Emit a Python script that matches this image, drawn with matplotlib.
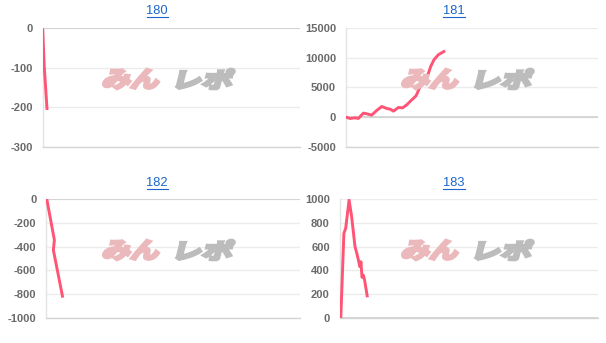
import math
import matplotlib
matplotlib.use("Agg")
import matplotlib.pyplot as plt
from matplotlib.textpath import TextPath
from matplotlib.patches import PathPatch
from matplotlib.font_manager import FontProperties
from matplotlib.transforms import Affine2D
from matplotlib.lines import Line2D

W, H = 606, 343

titles = ["180", "181", "182", "183"]

x180 = [0.0, 0.6, 1.7]
y180 = [0, -97, -207]

x181 = [0.0, 1.7, 3.7, 5.0, 7.0, 8.3, 10.3, 12.3, 14.3, 16.3, 17.6, 18.9, 20.9,
        22.6, 24.2, 26.2, 27.9, 29.5, 30.6, 31.9, 32.8, 33.7, 35.0, 36.7, 39.4]
y181 = [0, -230, -120, -230, 670, 560, 340, 1120, 1790, 1450, 1350, 1010, 1620,
        1570, 2080, 2920, 3600, 5170, 6010, 6420, 7430, 8560, 9690, 10530, 11200]

x182 = [0.3, 3.3, 2.9, 6.6]
y182 = [0, -345, -429, -829]

x183 = [0.5, 1.7, 2.4, 3.7, 4.7, 6.0, 6.7, 7.9, 8.3, 8.7, 9.2, 9.7, 10.8]
y183 = [0, 712, 754, 992, 851, 599, 544, 431, 473, 342, 361, 319, 174]

yticks = [[0, -100, -200, -300],
          [15000, 10000, 5000, 0, -5000],
          [0, -200, -400, -600, -800, -1000],
          [1000, 800, 600, 400, 200, 0]]
ylims = [(-300, 0), (-5000, 15000), (-1000, 0), (0, 1000)]

xs = [x180, x181, x182, x183]
ys = [y180, y181, y182, y183]

# axes boxes in pixels: left, right, top, bottom
boxes = [(42.7, 300, 28.3, 146.7),
         (345.7, 598, 28.3, 146.7),
         (46.0, 300, 199.0, 318.0),
         (339.5, 598, 199.0, 318.0)]
title_pos = [(157, 11.5), (454, 11.5), (157, 183.5), (454, 183.5)]
logo_pos = [(170, 79), (469, 79), (170, 250), (469, 250)]

LINE = "#ff5475"
fig = plt.figure(figsize=(W / 100, H / 100), dpi=100)
fig.patch.set_facecolor("white")

px_tr = Affine2D().scale(1 / W, 1 / H) + fig.transFigure

fp_logo = FontProperties(family="Noto Sans CJK JP", weight="bold")


def logo_part(text, x0, x1, ytop, ybot, color):
    tp = TextPath((0, 0), text, size=30, prop=fp_logo)
    bb = tp.get_extents()
    skew = 14
    t = math.tan(math.radians(skew))
    pad = 1.2
    h = (ybot - ytop) - 2 * pad
    w = (x1 - x0) - 2 * pad - h * t
    tr = (Affine2D().translate(-bb.x0, -bb.y0)
          .scale(w / bb.width, h / bb.height)
          .skew_deg(skew, 0)
          .translate(x0 + pad, H - ybot + pad))
    path = tr.transform_path(tp)
    p = PathPatch(path, facecolor=color, edgecolor=color, linewidth=2.2,
                  joinstyle="miter", transform=px_tr, zorder=0.5)
    fig.add_artist(p)


for i in range(4):
    l, r, t, b = boxes[i]
    ax = fig.add_axes([l / W, 1 - b / H, (r - l) / W, (b - t) / H])
    ax.set_facecolor("none")
    ax.set_xlim(0, 100)
    ax.set_ylim(*ylims[i])
    ax.set_yticks(yticks[i])
    ax.set_yticklabels([str(v) for v in yticks[i]], family="Liberation Sans",
                       fontsize=8.0, color="#6a6a6a", fontweight="bold")
    ax.set_xticks([])
    ax.tick_params(axis="y", length=0, pad=7)
    for s in ["top", "right"]:
        ax.spines[s].set_visible(False)
    ax.spines["left"].set_color("#e4e4e4")
    ax.spines["left"].set_linewidth(1)
    ax.spines["bottom"].set_color("#d4d4d4")
    ax.spines["bottom"].set_linewidth(1)
    ax.grid(axis="y", color="#ececec", linewidth=1)
    ax.set_axisbelow(True)
    ax.axhline(0, color="#d0d0d0", linewidth=1.2, zorder=1)
    ax.plot(xs[i], ys[i], color=LINE, linewidth=2.1, zorder=3,
            solid_joinstyle="round", solid_capstyle="butt")

    tx, ty = title_pos[i]
    fig.text(tx / W, 1 - ty / H, titles[i], ha="center", va="center",
             family="Liberation Sans", fontsize=9.3, color="#1a66cc")
    line = Line2D([(tx - 10.5) / W, (tx + 10.5) / W],
                  [1 - (ty + 5.2) / H, 1 - (ty + 5.2) / H],
                  transform=fig.transFigure, color="#1a66cc", linewidth=0.8)
    fig.add_artist(line)

    cx, cy = logo_pos[i]
    logo_part("みん", cx - 69, cx - 7, cy - 11, cy + 11, "#ebb9bc")
    logo_part("レポ", cx + 5, cx + 66, cy - 11, cy + 11, "#bcbcbc")

fig.savefig("out.png", dpi=100, facecolor="white")
